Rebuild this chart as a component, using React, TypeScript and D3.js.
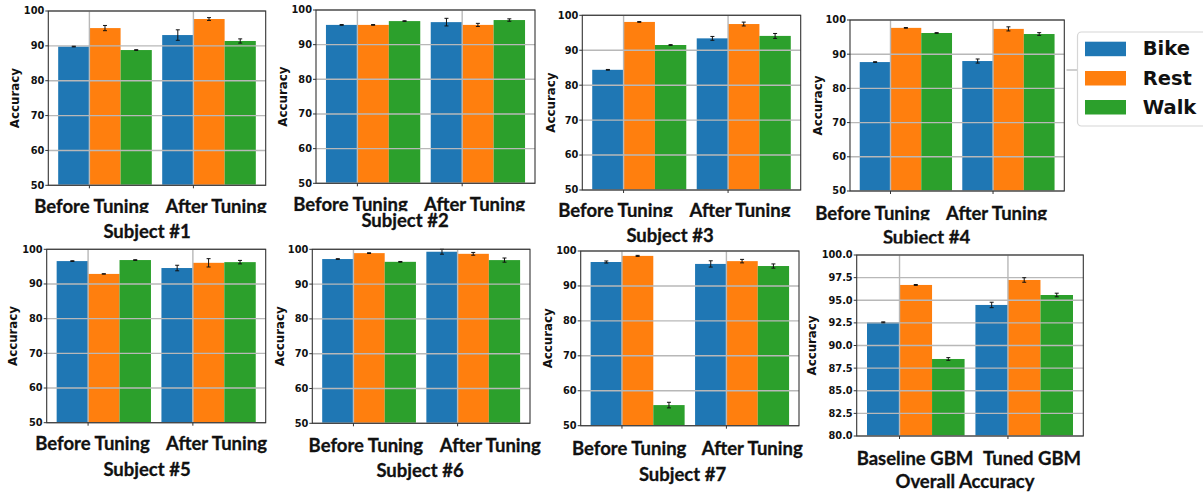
import React from "react";
import * as d3 from "d3";

const activities = ["Bike", "Rest", "Walk"];
const colors = ["#1f77b4", "#ff7f0e", "#2ca02c"];
const tuningGroups = ["Before Tuning", "After Tuning"];
const overallGroups = ["Baseline GBM", "Tuned GBM"];
const subjectTitles = ["Subject #1", "Subject #2", "Subject #3", "Subject #4", "Subject #5", "Subject #6", "Subject #7", "Overall Accuracy"];

// values[group][activity]
const s1Values = [[89.8, 95.1, 88.8], [93.1, 97.7, 91.4]];
const s1Errors = [[0.1, 0.75, 0.1], [1.5, 0.4, 0.6]];
const s2Values = [[95.7, 95.7, 96.8], [96.5, 95.7, 97.1]];
const s2Errors = [[0.1, 0.1, 0.1], [1.1, 0.45, 0.35]];
const s3Values = [[84.4, 98.1, 91.5], [93.4, 97.5, 94.1]];
const s3Errors = [[0.1, 0.1, 0.1], [0.55, 0.55, 0.7]];
const s4Values = [[87.7, 97.7, 96.2], [88.0, 97.4, 95.9]];
const s4Errors = [[0.1, 0.1, 0.1], [0.6, 0.6, 0.4]];
const s5Values = [[96.6, 92.9, 96.9], [94.6, 96.1, 96.3]];
const s5Errors = [[0.1, 0.05, 0.1], [0.8, 1.2, 0.5]];
const s6Values = [[97.2, 98.9, 96.4], [99.3, 98.7, 96.9]];
const s6Errors = [[0.1, 0.1, 0.1], [0.7, 0.4, 0.6]];
const s7Values = [[96.85, 98.6, 55.9], [96.3, 97.1, 95.7]];
const s7Errors = [[0.3, 0.15, 0.8], [0.9, 0.5, 0.6]];
const overallValues = [[92.56, 96.69, 88.51], [94.48, 97.24, 95.58]];
const overallErrors = [[0.05, 0.05, 0.15], [0.3, 0.25, 0.2]];

const ticks50 = [50, 60, 70, 80, 90, 100];
const ticks80 = [80, 82.5, 85, 87.5, 90, 92.5, 95, 97.5, 100];

// layout (positions only)
const panels = [
  { values: s1Values, errors: s1Errors, groups: tuningGroups, title: subjectTitles[0], ticks: ticks50, fmt: "d",
    box: [48.3, 265.7, 11, 185.3], labelX: [91.5, 216], labelY: 213, clipY: 213, titleX: 147, titleY: 238, titleClip: 999, accX: 15 },
  { values: s2Values, errors: s2Errors, groups: tuningGroups, title: subjectTitles[1], ticks: ticks50, fmt: "d",
    box: [316, 535, 10, 183.3], labelX: [350.5, 474.5], labelY: 211, clipY: 211.3, titleX: 405, titleY: 226.5, titleClip: 999, accX: 283 },
  { values: s3Values, errors: s3Errors, groups: tuningGroups, title: subjectTitles[2], ticks: ticks50, fmt: "d",
    box: [582.3, 800.7, 15.3, 190], labelX: [615.5, 740], labelY: 216.5, clipY: 217, titleX: 670, titleY: 242.3, titleClip: 999, accX: 551 },
  { values: s4Values, errors: s4Errors, groups: tuningGroups, title: subjectTitles[3], ticks: ticks50, fmt: "d",
    box: [850, 1064.3, 20, 191], labelX: [872.5, 996.5], labelY: 219.8, clipY: 220.3, titleX: 926.5, titleY: 243.5, titleClip: 243.5, accX: 818 },
  { values: s5Values, errors: s5Errors, groups: tuningGroups, title: subjectTitles[4], ticks: ticks50, fmt: "d",
    box: [46.7, 265.7, 249.3, 422.7], labelX: [92.5, 216.5], labelY: 450, clipY: 999, titleX: 147, titleY: 475.7, titleClip: 999, accX: 13.3 },
  { values: s6Values, errors: s6Errors, groups: tuningGroups, title: subjectTitles[5], ticks: ticks50, fmt: "d",
    box: [312.3, 530, 249.3, 423.3], labelX: [365.8, 490.3], labelY: 451.7, clipY: 999, titleX: 420, titleY: 477.3, titleClip: 999, accX: 280 },
  { values: s7Values, errors: s7Errors, groups: tuningGroups, title: subjectTitles[6], ticks: ticks50, fmt: "d",
    box: [580.7, 799, 251, 425.7], labelX: [629.2, 752.2], labelY: 455, clipY: 999, titleX: 682.5, titleY: 481, titleClip: 999, accX: 548.3 },
  { values: overallValues, errors: overallErrors, groups: overallGroups, title: subjectTitles[7], ticks: ticks80, fmt: ".1f",
    box: [856.7, 1083.3, 255, 436], labelX: [915, 1032], labelY: 465, clipY: 999, titleX: 965, titleY: 488, titleClip: 999, accX: 811.7 },
];

const BAR_W = 0.3;
const labelFont = "Lato, 'Open Sans', sans-serif";
const dejavu = "'DejaVu Sans', sans-serif";

function Panel({ p, idx }: { p: any; idx: number }) {
  const [l, r, t, b] = p.box;
  const yMin = p.ticks[0];
  const yMax = p.ticks[p.ticks.length - 1];
  const x = d3.scaleLinear().domain([-0.395, 1.695]).range([l, r]);
  const y = d3.scaleLinear().domain([yMin, yMax]).range([b, t]);
  const fmt = d3.format(p.fmt);
  const clipId = `clip-labels-${idx}`;
  const clipTitleId = `clip-title-${idx}`;
  const plotClip = `clip-plot-${idx}`;
  return (
    <g>
      <defs>
        <clipPath id={clipId}>
          <rect x={l - 60} y={b} width={r - l + 120} height={p.clipY - b} />
        </clipPath>
        <clipPath id={clipTitleId}>
          <rect x={l - 60} y={b} width={r - l + 120} height={p.titleClip - b} />
        </clipPath>
        <clipPath id={plotClip}>
          <rect x={l} y={t} width={r - l} height={b - t} />
        </clipPath>
      </defs>
      <rect x={l} y={t} width={r - l} height={b - t} fill="#ffffff" />
      <g clipPath={`url(#${plotClip})`}>
        {p.values.map((vals: number[], g: number) =>
          vals.map((v: number, i: number) => {
            const x0 = x(g + (i - 1) * BAR_W);
            const x1 = x(g + i * BAR_W);
            return (
              <rect key={`b${g}-${i}`} x={x0} y={y(v)} width={x1 - x0} height={y(yMin) - y(v)} fill={colors[i]} />
            );
          })
        )}
      </g>
      {/* grid */}
      {p.ticks.map((tv: number) => (
        <line key={`gy${tv}`} x1={l} x2={r} y1={y(tv)} y2={y(tv)} stroke="#b8b8b8" strokeWidth={1.4} />
      ))}
      {p.groups.map((_: string, g: number) => (
        <line key={`gx${g}`} x1={x(g)} x2={x(g)} y1={t} y2={b} stroke="#b8b8b8" strokeWidth={1.4} />
      ))}
      {/* error bars */}
      {p.values.map((vals: number[], g: number) =>
        vals.map((v: number, i: number) => {
          const cx = x(g + (i - 0.5) * BAR_W);
          const e = p.errors[g][i];
          const yTop = y(v + e);
          const yBot = y(v - e);
          return (
            <g key={`e${g}-${i}`} stroke="#111" strokeWidth={1}>
              <line x1={cx} x2={cx} y1={yTop} y2={yBot} />
              <line x1={cx - 2} x2={cx + 2} y1={yTop} y2={yTop} />
              <line x1={cx - 2} x2={cx + 2} y1={yBot} y2={yBot} />
            </g>
          );
        })
      )}
      {/* frame */}
      <rect x={l} y={t} width={r - l} height={b - t} fill="none" stroke="#333" strokeWidth={1.1} />
      {/* y ticks */}
      {p.ticks.map((tv: number) => (
        <g key={`yt${tv}`}>
          <line x1={l - 3} x2={l} y1={y(tv)} y2={y(tv)} stroke="#333" strokeWidth={1} />
          <text x={l - 4} y={y(tv)} dy="0.35em" textAnchor="end" fontFamily={dejavu} fontWeight="bold" fontSize={9.8} fill="#111">
            {fmt(tv)}
          </text>
        </g>
      ))}
      {/* x ticks */}
      {p.groups.map((_: string, g: number) => (
        <line key={`xt${g}`} x1={x(g)} x2={x(g)} y1={b} y2={b + 3} stroke="#333" strokeWidth={1} />
      ))}
      <text
        transform={`translate(${p.accX},${(t + b) / 2}) rotate(-90)`}
        textAnchor="middle"
        dy="0.35em"
        fontFamily={dejavu}
        fontWeight="bold"
        fontSize={11.8}
        fill="#111"
      >
        Accuracy
      </text>
      <g clipPath={`url(#${clipId})`}>
        {p.groups.map((name: string, g: number) => (
          <text key={`xl${g}`} x={p.labelX[g]} y={p.labelY} textAnchor="middle" fontFamily={labelFont} fontWeight="bold" fontSize={18.5} fill="#111" stroke="#111" strokeWidth={0.3}>
            {name}
          </text>
        ))}
      </g>
      <g clipPath={`url(#${clipTitleId})`}>
        <text x={p.titleX} y={p.titleY} textAnchor="middle" fontFamily={labelFont} fontWeight="bold" fontSize={18.5} fill="#111" stroke="#111" strokeWidth={0.3}>
          {p.title}
        </text>
      </g>
    </g>
  );
}

function Legend() {
  const rowY = [41.7, 71, 100];
  return (
    <g>
      <line x1={1066.5} x2={1078} y1={70} y2={70} stroke="#bbbbbb" strokeWidth={1.4} />
      <rect x={1077.5} y={32} width={140} height={94} rx={4} ry={4} fill="#ffffff" stroke="#d6d6d6" strokeWidth={1.2} />
      {activities.map((a, i) => (
        <g key={a}>
          <rect x={1085} y={rowY[i]} width={41} height={14.5} fill={colors[i]} />
          <text x={1142.7} y={rowY[i] + 13.5} fontFamily={dejavu} fontWeight="bold" fontSize={19.5} fill="#111">
            {a}
          </text>
        </g>
      ))}
    </g>
  );
}

export default function App() {
  return (
    <svg width={1203} height={493} style={{ position: "absolute", left: 0, top: 0, background: "#fff" }}>
      <rect x={0} y={0} width={1203} height={493} fill="#ffffff" />
      {panels.map((p, i) => (
        <Panel key={i} p={p} idx={i} />
      ))}
      <Legend />
    </svg>
  );
}
